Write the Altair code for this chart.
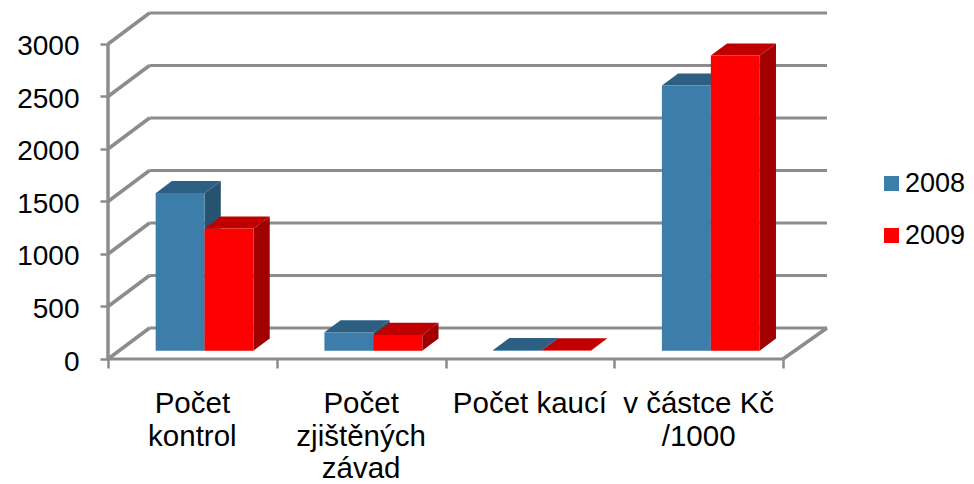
import altair as alt
import pandas as pd

categories = ["Počet\nkontrol", "Počet\nzjištěných\nzávad", "Počet kaucí", "v částce Kč\n/1000"]
series = ["2008", "2009"]
values_2008 = [1500, 174, 5, 2524]
values_2009 = [1162, 150, 3, 2810]
ticks = [0, 500, 1000, 1500, 2000, 2500, 3000]
x_ticks = [0, 1, 2, 3, 4]

BLUE, BLUE_TOP, BLUE_SIDE = "#3C7DA9", "#2D5F82", "#26536F"
RED, RED_TOP, RED_SIDE = "#FF0000", "#C00000", "#A00000"
GREY = "#8C8C8C"
FONT = "Liberation Sans"

# oblique projection: depth 1 = the whole floor
DEPTH_X = 0.246    # categories
DEPTH_Y = 295.0    # value units
NEAR, FAR = 0.27, 0.66
GAP = 0.216
BAR = 0.29
XMAX = 4.2607
YMAX = 3000 + DEPTH_Y

xs = alt.Scale(domain=[0, XMAX], nice=False, zero=False)
ys = alt.Scale(domain=[0, YMAX], nice=False, zero=False)
x_axis = alt.Axis(values=x_ticks, labels=False, title=None, grid=False, domain=False,
                  tickColor=GREY, tickWidth=2.5, tickSize=9)
y_axis = alt.Axis(values=ticks, title=None, grid=False, domain=False, format="d",
                  tickColor=GREY, tickWidth=2.5, tickSize=8,
                  labelFont=FONT, labelFontSize=28, labelColor="black", labelPadding=21,
                  labelOffset=3)

front, side, top = [], [], []
for c in range(len(categories)):
    for s, vals in enumerate([values_2008, values_2009]):
        v = vals[c]
        left = c + GAP + s * BAR
        right = left + BAR
        front.append(dict(series=series[s], c=c,
                          x=left + NEAR * DEPTH_X, x2=right + NEAR * DEPTH_X,
                          y=NEAR * DEPTH_Y, y2=NEAR * DEPTH_Y + v))
        for d in (NEAR, FAR):
            side.append(dict(series=series[s], c=c, x=right + d * DEPTH_X,
                             y=d * DEPTH_Y, y2=d * DEPTH_Y + v))
            top.append(dict(series=series[s], c=c, x=left + d * DEPTH_X,
                            x2=right + d * DEPTH_X, y=d * DEPTH_Y + v))
front, side, top = pd.DataFrame(front), pd.DataFrame(side), pd.DataFrame(top)


def X(f="x"):
    return alt.X(f"{f}:Q", scale=xs, axis=x_axis)


def Y(f="y"):
    return alt.Y(f"{f}:Q", scale=ys, axis=y_axis)


wall_df = pd.DataFrame({"v": ticks})
wall_df["y"] = wall_df.v + DEPTH_Y
wall_df["x"] = DEPTH_X
wall_df["x2"] = XMAX
back_lines = alt.Chart(wall_df).mark_rule(color=GREY, strokeWidth=3).encode(x=X(), x2="x2:Q", y=Y())

diag_df = pd.DataFrame([dict(v=v, x=d * DEPTH_X, y=v + d * DEPTH_Y) for v in ticks for d in (0, 1)])
diag = alt.Chart(diag_df).mark_line(color=GREY, strokeWidth=3.5).encode(x=X(), y=Y(), detail="v:N")

floor_df = pd.DataFrame({"x": [4.0, XMAX], "y": [0.0, DEPTH_Y]})
floor = alt.Chart(floor_df).mark_line(color=GREY, strokeWidth=3.5).encode(x=X(), y=Y())

front_v = alt.Chart(pd.DataFrame({"x": [0.0], "y": [0.0], "y2": [3000.0]})).mark_rule(
    color=GREY, strokeWidth=3.5).encode(x=X(), y=Y(), y2="y2:Q")
front_h = alt.Chart(pd.DataFrame({"x": [0.0], "x2": [4.0], "y": [0.0]})).mark_rule(
    color=GREY, strokeWidth=3).encode(x=X(), x2="x2:Q", y=Y())


def side_layer(name, col):
    return alt.Chart(side[side.series == name]).mark_area(color=col).encode(
        x=X(), y=Y(), y2="y2:Q", detail="c:N")


def top_layer(name, col):
    return alt.Chart(top[top.series == name]).mark_area(color=col, orient="horizontal").encode(
        y=Y(), x=X(), x2="x2:Q", detail="c:N")


fronts = alt.Chart(front).mark_bar().encode(
    x=X(), x2="x2:Q", y=Y(), y2="y2:Q",
    color=alt.Color("series:N", scale=alt.Scale(domain=series, range=[BLUE, RED]),
                    legend=alt.Legend(title=None, orient="none", legendX=770, legendY=157,
                                      symbolType="square", symbolSize=225, symbolStrokeWidth=0,
                                      labelFont=FONT, labelFontSize=27, labelColor="black",
                                      rowPadding=24, labelOffset=0, padding=0)),
)

label_df = pd.DataFrame({"x": [i + 0.5 for i in range(len(categories))], "t": categories})
labels = alt.Chart(label_df).mark_text(font=FONT, fontSize=29.5, color="black", lineBreak="\n",
                                       lineHeight=32.5, align="center", baseline="alphabetic").encode(
    x=alt.X("x:Q", scale=xs, axis=x_axis), y=alt.value(400), text="t:N")

chart = alt.layer(
    back_lines, diag, floor, front_v, front_h,
    side_layer("2008", BLUE_SIDE), top_layer("2008", BLUE_TOP),
    side_layer("2009", RED_SIDE), top_layer("2009", RED_TOP),
    fronts, labels,
).properties(
    width=719, height=346,
    autosize=alt.AutoSizeParams(type="none"),
    padding={"left": 100, "top": 5, "right": 139, "bottom": 125},
).configure_view(stroke=None)

chart.save("out.html", embed_options={"renderer": "svg", "actions": False})
